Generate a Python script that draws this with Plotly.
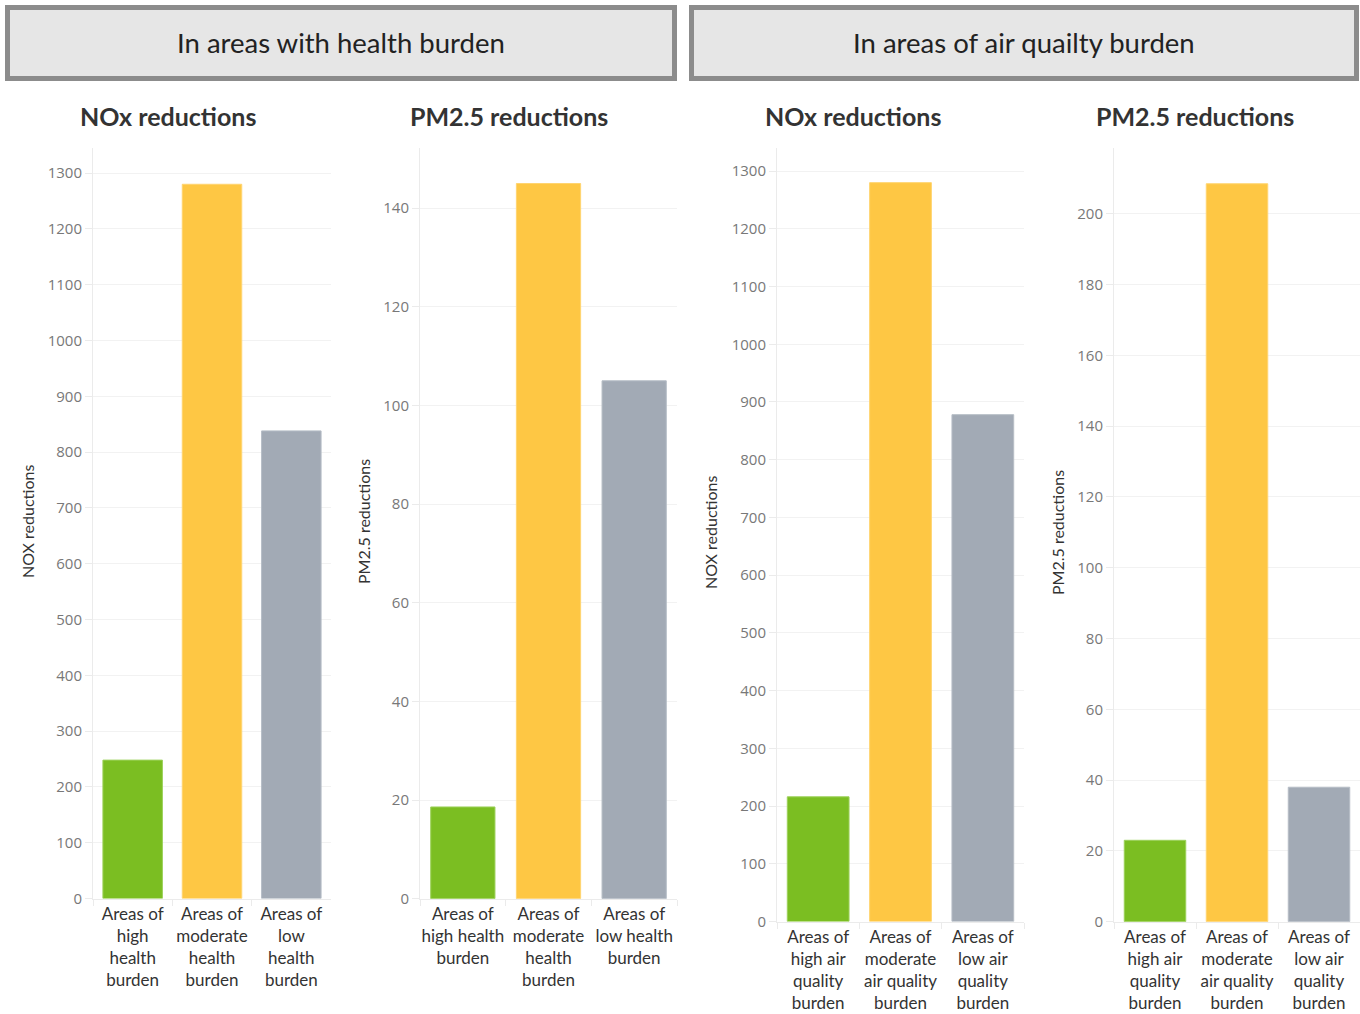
import plotly.graph_objects as go

W, H = 1360, 1014

# ---- data ----
health_cats = ["Areas of<br>high<br>health<br>burden",
               "Areas of<br>moderate<br>health<br>burden",
               "Areas of<br>low<br>health<br>burden"]
health_cats_pm = ["Areas of<br>high health<br>burden",
                  "Areas of<br>moderate<br>health<br>burden",
                  "Areas of<br>low health<br>burden"]
air_cats = ["Areas of<br>high air<br>quality<br>burden",
            "Areas of<br>moderate<br>air quality<br>burden",
            "Areas of<br>low air<br>quality<br>burden"]
nox_health = [248, 1280, 838]
pm_health = [18.6, 145, 105]
nox_air = [216, 1280, 878]
pm_air = [23, 208.5, 38]

bar_colors = ["#7BBE22", "#FEC744", "#A2AAB5"]
bar_edges = ["#9CD15A", "#FFD470", "#B6BDC6"]

header_titles = ["In areas with health burden", "In areas of air quailty burden"]
panel_titles = ["NOx reductions", "PM2.5 reductions", "NOx reductions", "PM2.5 reductions"]
axis_titles = ["NOX reductions", "PM2.5 reductions", "NOX reductions", "PM2.5 reductions"]
y_dticks = [100, 20, 100, 20]
y_tops = [1345, 152.2, 1340, 218.6]

# ---- layout geometry (pixels) ----
panels = [
    dict(x=(93, 331), y=(148, 898.5), cats=health_cats, vals=nox_health),
    dict(x=(420, 677), y=(148, 898.7), cats=health_cats_pm, vals=pm_health),
    dict(x=(777, 1024), y=(148, 921.5), cats=air_cats, vals=nox_air),
    dict(x=(1114, 1360), y=(148, 921.7), cats=air_cats, vals=pm_air),
]
title_x = [168, 509, 853, 1195]
axis_title_pos = [(27, 522), (363, 522), (710, 533), (1057, 533)]

fig = go.Figure()
layout = dict(
    width=W, height=H, margin=dict(l=0, r=0, t=0, b=0, autoexpand=False),
    paper_bgcolor="white", plot_bgcolor="white", showlegend=False,
    bargap=0.25,
)

tick_font = dict(family="Open Sans, Lato, sans-serif", size=15, color="#787878")
cat_font = dict(family="Lato, Open Sans, sans-serif", size=17, color="#333333")

annotations = []
shapes = []

for i, p in enumerate(panels):
    n = "" if i == 0 else str(i + 1)
    fig.add_trace(go.Bar(
        x=p["cats"], y=p["vals"],
        marker=dict(color=bar_colors, line=dict(color=bar_edges, width=1)),
        width=0.75,
        xaxis="x" + n, yaxis="y" + n,
        hoverinfo="x+y",
    ))
    xd = [p["x"][0] / W, p["x"][1] / W]
    yd = [1 - p["y"][1] / H, 1 - p["y"][0] / H]
    layout["xaxis" + n] = dict(
        domain=xd, anchor="y" + n, showgrid=False, automargin=False,
        showline=True, linecolor="#ebebeb", linewidth=1,
        ticks="outside", tickson="boundaries", ticklen=6, tickcolor="#ebebeb",
        tickfont=cat_font, tickangle=0, fixedrange=True,
    )
    layout["yaxis" + n] = dict(
        domain=yd, anchor="x" + n, range=[0, y_tops[i]], automargin=False,
        dtick=y_dticks[i], tick0=0,
        showgrid=True, gridcolor="#f2f2f2", gridwidth=1,
        showline=True, linecolor="#ebebeb", linewidth=1,
        ticks="outside", ticklen=7, tickcolor="#ebebeb",
        tickfont=tick_font, zeroline=False, fixedrange=True,
    )
    annotations.append(dict(
        text="<b>" + panel_titles[i] + "</b>", xref="paper", yref="paper",
        x=title_x[i] / W, y=1 - 116 / H, showarrow=False,
        font=dict(family="Lato, Open Sans, sans-serif", size=25, color="#333333"),
        xanchor="center", yanchor="middle",
    ))
    ax, ay = axis_title_pos[i]
    annotations.append(dict(
        text=axis_titles[i], xref="paper", yref="paper",
        x=ax / W, y=1 - ay / H, showarrow=False, textangle=-90,
        font=dict(family="Lato, Open Sans, sans-serif", size=16, color="#333333"),
        xanchor="center", yanchor="middle",
    ))

# header boxes
boxes = [(5, 677), (689, 1359)]
for (x0, x1), t in zip(boxes, header_titles):
    shapes.append(dict(
        type="rect", xref="paper", yref="paper",
        x0=(x0 + 2.5) / W, x1=(x1 - 2.5) / W,
        y0=1 - (81 - 2.5) / H, y1=1 - (5 + 2.5) / H,
        line=dict(color="#8c8c8c", width=5), fillcolor="#e6e6e6", layer="below",
    ))
    annotations.append(dict(
        text=t, xref="paper", yref="paper",
        x=((x0 + x1) / 2) / W, y=1 - 43 / H, showarrow=False,
        font=dict(family="Lato, Open Sans, sans-serif", size=27.5, color="#222222"),
        xanchor="center", yanchor="middle",
    ))

layout["annotations"] = annotations
layout["shapes"] = shapes
fig.update_layout(**layout)
fig.write_html("out.html")
